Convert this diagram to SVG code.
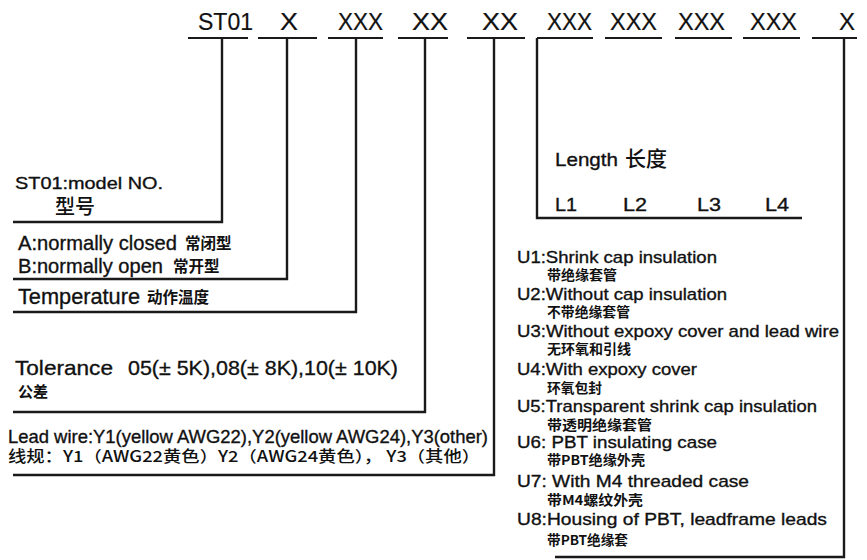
<svg xmlns="http://www.w3.org/2000/svg" width="867" height="560" viewBox="0 0 867 560">
<style>
.en{font-family:"Liberation Sans",Arial,"Noto Sans CJK SC",sans-serif;fill:#111;stroke:#111;stroke-width:0.35}
.cn{font-family:"Noto Sans CJK SC","Liberation Sans",sans-serif;fill:#111;font-weight:700}
.code{font-size:24px;stroke-width:0.2}
.ul{stroke:#1a1a1a;stroke-width:2.2;fill:none}
.ln{stroke:#1a1a1a;stroke-width:2.4;fill:none;stroke-linejoin:miter}
</style>
<rect width="867" height="560" fill="#fff"/>
<g id="code">
<g id="seg-st01"><text class="en code" x="198" y="30" textLength="55" lengthAdjust="spacingAndGlyphs">ST01</text><line class="ul" x1="188" y1="38" x2="248" y2="38"/></g>
<g id="seg-x1"><text class="en code" x="280" y="30" textLength="18" lengthAdjust="spacingAndGlyphs">X</text><line class="ul" x1="258" y1="38" x2="317" y2="38"/></g>
<g id="seg-xxx1"><text class="en code" x="338" y="30" textLength="45" lengthAdjust="spacingAndGlyphs">XXX</text><line class="ul" x1="328" y1="38" x2="383" y2="38"/></g>
<g id="seg-xx1"><text class="en code" x="412" y="30" textLength="36" lengthAdjust="spacingAndGlyphs">XX</text><line class="ul" x1="398" y1="38" x2="448" y2="38"/></g>
<g id="seg-xx2"><text class="en code" x="482" y="30" textLength="36" lengthAdjust="spacingAndGlyphs">XX</text><line class="ul" x1="467" y1="38" x2="525" y2="38"/></g>
<g id="seg-l1"><text class="en code" x="547" y="30" textLength="45" lengthAdjust="spacingAndGlyphs">XXX</text><line class="ul" x1="537" y1="38" x2="593" y2="38"/></g>
<g id="seg-l2"><text class="en code" x="610" y="30" textLength="47" lengthAdjust="spacingAndGlyphs">XXX</text><line class="ul" x1="605" y1="38" x2="662" y2="38"/></g>
<g id="seg-l3"><text class="en code" x="678" y="30" textLength="47" lengthAdjust="spacingAndGlyphs">XXX</text><line class="ul" x1="675" y1="38" x2="732" y2="38"/></g>
<g id="seg-l4"><text class="en code" x="750" y="30" textLength="47" lengthAdjust="spacingAndGlyphs">XXX</text><line class="ul" x1="743" y1="38" x2="800" y2="38"/></g>
<g id="seg-x2"><text class="en code" x="839" y="30" textLength="16" lengthAdjust="spacingAndGlyphs">X</text><line class="ul" x1="812" y1="38" x2="857" y2="38"/></g>
</g>
<g id="connectors">
<path class="ln" d="M13,222 H222 V38"/>
<path class="ln" d="M13,279 H287 V38"/>
<path class="ln" d="M13,312 H356 V38"/>
<path class="ln" d="M13,412 H425 V38"/>
<path class="ln" d="M13,475 H494 V38"/>
<path class="ln" d="M537,38 V218 H802"/>
<path class="ln" d="M844,38 V557 H555"/>
</g>
<g id="model">
<text class="en" x="15" y="189" font-size="17" textLength="148" lengthAdjust="spacingAndGlyphs">ST01:model NO.</text>
<text class="cn" x="55" y="214" font-size="20" style="font-weight:500">型号</text>
</g>
<g id="type">
<text class="en" x="18" y="250" font-size="21" textLength="159" lengthAdjust="spacingAndGlyphs">A:normally closed</text>
<text class="cn" x="185" y="249" font-size="15.5">常闭型</text>
<text class="en" x="18" y="273" font-size="21" textLength="145" lengthAdjust="spacingAndGlyphs">B:normally open</text>
<text class="cn" x="173" y="272" font-size="15.5">常开型</text>
</g>
<g id="temperature">
<text class="en" x="18" y="304" font-size="22" textLength="122" lengthAdjust="spacingAndGlyphs">Temperature</text>
<text class="cn" x="147" y="303" font-size="15.5">动作温度</text>
</g>
<g id="tolerance">
<text class="en" x="15" y="375" font-size="21" textLength="98" lengthAdjust="spacingAndGlyphs">Tolerance</text>
<text class="en" x="128" y="375" font-size="21" textLength="270" lengthAdjust="spacingAndGlyphs">05(± 5K),08(± 8K),10(± 10K)</text>
<text class="cn" x="18" y="397" font-size="15">公差</text>
</g>
<g id="leadwire">
<text class="en" x="8" y="443" font-size="18.5" textLength="480" lengthAdjust="spacingAndGlyphs">Lead wire:Y1(yellow AWG22),Y2(yellow AWG24),Y3(other)</text>
<text class="cn" x="8" y="462" font-size="15.5" style="font-weight:500" textLength="472" lengthAdjust="spacingAndGlyphs">线规：Y1（AWG22黄色）Y2（AWG24黄色）， Y3（其他）</text>
</g>
<g id="length">
<text class="en" x="555" y="166" font-size="19" textLength="63" lengthAdjust="spacingAndGlyphs">Length</text>
<text class="cn" x="625" y="166" font-size="21" style="font-weight:500">长度</text>
<text class="en" x="555" y="211" font-size="19" textLength="22" lengthAdjust="spacingAndGlyphs">L1</text>
<text class="en" x="623" y="211" font-size="19" textLength="24" lengthAdjust="spacingAndGlyphs">L2</text>
<text class="en" x="697" y="211" font-size="19" textLength="24" lengthAdjust="spacingAndGlyphs">L3</text>
<text class="en" x="765" y="211" font-size="19" textLength="24" lengthAdjust="spacingAndGlyphs">L4</text>
</g>
<g id="options">
<text class="en" x="517" y="263" font-size="17" textLength="200" lengthAdjust="spacingAndGlyphs">U1:Shrink cap insulation</text>
<text class="cn" x="547" y="280" font-size="13.5" textLength="70" lengthAdjust="spacingAndGlyphs">带绝缘套管</text>
<text class="en" x="517" y="300" font-size="17" textLength="210" lengthAdjust="spacingAndGlyphs">U2:Without cap insulation</text>
<text class="cn" x="547" y="317" font-size="13.5" textLength="83" lengthAdjust="spacingAndGlyphs">不带绝缘套管</text>
<text class="en" x="517" y="337" font-size="17" textLength="322" lengthAdjust="spacingAndGlyphs">U3:Without expoxy cover and lead wire</text>
<text class="cn" x="547" y="354" font-size="13.5" textLength="84" lengthAdjust="spacingAndGlyphs">无环氧和引线</text>
<text class="en" x="517" y="375" font-size="17" textLength="180" lengthAdjust="spacingAndGlyphs">U4:With expoxy cover</text>
<text class="cn" x="547" y="393" font-size="13.5" textLength="55" lengthAdjust="spacingAndGlyphs">环氧包封</text>
<text class="en" x="517" y="412" font-size="17" textLength="300" lengthAdjust="spacingAndGlyphs">U5:Transparent shrink cap insulation</text>
<text class="cn" x="547" y="430" font-size="13.5" textLength="105" lengthAdjust="spacingAndGlyphs">带透明绝缘套管</text>
<text class="en" x="517" y="448" font-size="17" textLength="200" lengthAdjust="spacingAndGlyphs">U6: PBT  insulating case</text>
<text class="cn" x="547" y="465" font-size="13.5" textLength="98" lengthAdjust="spacingAndGlyphs">带PBT绝缘外壳</text>
<text class="en" x="517" y="487" font-size="17" textLength="232" lengthAdjust="spacingAndGlyphs">U7:  With M4 threaded case</text>
<text class="cn" x="547" y="505" font-size="13.5" textLength="96" lengthAdjust="spacingAndGlyphs">带M4螺纹外壳</text>
<text class="en" x="517" y="525" font-size="17" textLength="310" lengthAdjust="spacingAndGlyphs">U8:Housing of PBT, leadframe leads</text>
<text class="cn" x="547" y="545" font-size="13.5" textLength="81" lengthAdjust="spacingAndGlyphs">带PBT绝缘套</text>
</g>
</svg>
